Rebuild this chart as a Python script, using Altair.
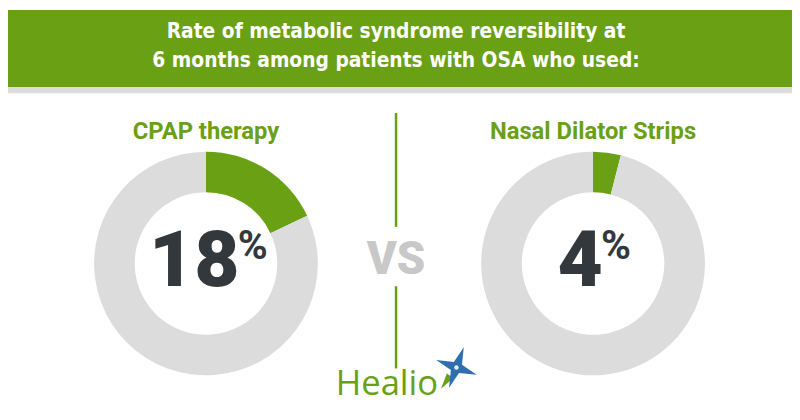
import altair as alt
import pandas as pd

# ---- data ----
title_lines = ["Rate of metabolic syndrome reversibility at", "6 months among patients with OSA who used:"]
groups = ["CPAP therapy", "Nasal Dilator Strips"]
rates = [18, 4]
vs_label = "VS"
brand = "Healio"

GREEN = "#6aa013"
GRAY = "#dcdcdc"
DARK = "#33383c"
VSGRAY = "#c8c8c8"
BLUE = "#2f6fb0"

W, H = 792, 412
OFF = 8  # page margin offset

def px(v):
    return alt.value(v - OFF)

one = pd.DataFrame({"a": [0]})

header = alt.Chart(one).mark_rect(color=GREEN).encode(
    x=alt.value(0), x2=alt.value(W), y=alt.value(0), y2=px(86))
strip = alt.Chart(one).mark_rect(color=GRAY).encode(
    x=alt.value(0), x2=alt.value(W), y=px(86), y2=px(92))

title = alt.Chart(pd.DataFrame({"t": ["\n".join(title_lines)]})).mark_text(
    font="Liberation Sans Narrow, DejaVu Sans Condensed, Roboto", fontWeight="bold",
    fontSize=21, color="white", align="center", baseline="middle",
    lineBreak="\n", lineHeight=30).encode(
    text="t:N", x=px(400), y=px(30))

centers = [208, 599]
layers = [header, strip, title]

for i, (g, r, cx) in enumerate(zip(groups, rates, centers)):
    df = pd.DataFrame({"part": ["yes", "no"], "value": [r, 100 - r], "ord": [0, 1]})
    arc = alt.Chart(df).mark_arc(outerRadius=113, innerRadius=72).encode(
        theta=alt.Theta("value:Q", stack=True),
        color=alt.Color("part:N", scale=alt.Scale(domain=["yes", "no"], range=[GREEN, GRAY]), legend=None),
        order=alt.Order("ord:Q"),
        x=px(cx), y=px(264))
    lab = alt.Chart(pd.DataFrame({"t": [g]})).mark_text(
        font="Roboto", fontWeight="bold", fontSize=24, color=GREEN,
        align="center", baseline="alphabetic").encode(text="t:N", x=px(cx), y=px(138))
    num_right = 242 if i == 0 else 609
    num = alt.Chart(pd.DataFrame({"t": [str(r)]})).mark_text(
        font="Roboto", fontWeight=900, fontSize=79, color=DARK,
        align="right", baseline="alphabetic").encode(text="t:N", x=px(num_right), y=px(287))
    pct = alt.Chart(pd.DataFrame({"t": ["%"]})).mark_text(
        font="Roboto", fontWeight="bold", fontSize=41, color=DARK,
        align="left", baseline="alphabetic").encode(text="t:N", x=px(num_right - 2), y=px(259))
    layers += [arc, lab, num, pct]

vs = alt.Chart(pd.DataFrame({"t": [vs_label]})).mark_text(
    font="Roboto", fontWeight=900, fontSize=46, color=VSGRAY,
    align="center", baseline="alphabetic").encode(text="t:N", x=px(400), y=px(275))

rule1 = alt.Chart(one).mark_rule(color=GREEN, strokeWidth=2.5).encode(
    x=px(400), y=px(112), y2=px(227))
rule2 = alt.Chart(one).mark_rule(color=GREEN, strokeWidth=2.5).encode(
    x=px(400), y=px(287), y2=px(370))

logo_text = alt.Chart(pd.DataFrame({"t": [brand]})).mark_text(
    font="Open Sans", fontSize=35, color=GREEN,
    align="left", baseline="alphabetic").encode(text="t:N", x=px(339), y=px(397))

star_path = "M0,-1 L0.2,-0.2 L1,0 L0.2,0.2 L0,1 L-0.2,0.2 L-1,0 L-0.2,-0.2 Z"
star = alt.Chart(one).mark_point(shape=star_path, filled=True, color=BLUE, size=1900, angle=20, opacity=1).encode(
    x=px(461), y=px(369))
tri = alt.Chart(one).mark_point(shape="M0,-1 L0.5,1 L-0.5,1 Z", filled=True, color=GREEN, size=260, angle=215, opacity=1).encode(
    x=px(450), y=px(384))
glow = alt.Chart(one).mark_point(shape="circle", filled=True, color="#e8f0f8", size=20, opacity=1).encode(
    x=px(461), y=px(369))

layers += [vs, rule1, rule2, logo_text, tri, star, glow]

chart = alt.layer(*layers).properties(
    width=W, height=H, autosize=alt.AutoSizeParams(type="none"), padding=0,
    background="white").configure_view(stroke=None)

chart.save("out.html", embed_options={"renderer": "svg", "actions": False})
